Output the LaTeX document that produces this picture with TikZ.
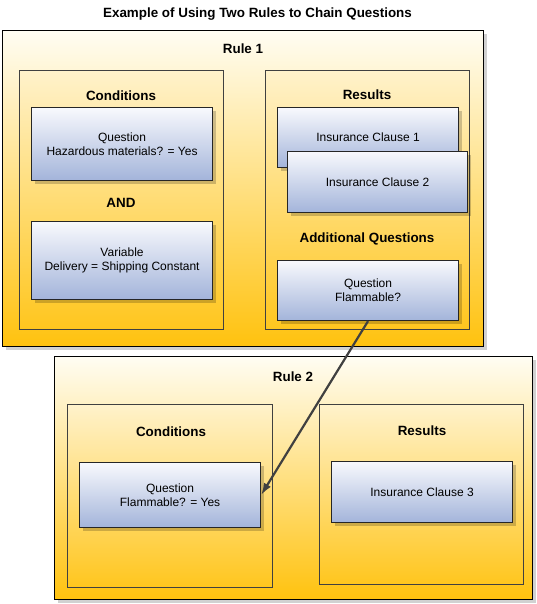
\documentclass[tikz,border=0pt]{standalone}
\usepackage{fontspec}
\setmainfont{Liberation Sans}
\usetikzlibrary{shapes,arrows.meta,calc,positioning,shadows}

\definecolor{ruletop}{HTML}{FFFDF3}
\definecolor{rulebot}{HTML}{FFC20E}
\definecolor{paneltop}{HTML}{FFF2CB}
\definecolor{panelbot}{HTML}{FFC61E}
\definecolor{itemtop}{HTML}{F8F9FD}
\definecolor{itembot}{HTML}{A3B4DA}
\definecolor{edge}{HTML}{404040}

\tikzset{
  rulebox/.style={draw=black, line width=1.3pt, top color=ruletop, bottom color=rulebot,
    anchor=north west, general shadow={shadow xshift=3pt, shadow yshift=-3pt, fill=black, opacity=0.18}},
  panel/.style={draw=edge, line width=0.9pt, top color=paneltop, bottom color=panelbot, anchor=north west},
  item/.style={draw=black!85, line width=1.1pt, top color=itemtop, bottom color=itembot,
    anchor=north west, align=center, font=\fontsize{12pt}{14pt}\selectfont,
    general shadow={shadow xshift=3pt, shadow yshift=-3pt, fill=black, opacity=0.2}},
  head/.style={font=\fontsize{13.4pt}{15pt}\selectfont\bfseries}
}

\begin{document}
\begin{tikzpicture}[x=1pt, y=-1pt]
  \useasboundingbox (0,0) rectangle (537,604);

  \node[head] (title) at (257.5,14) {Example of Using Two Rules to Chain Questions};

  % Rule 1
  \node[rulebox, minimum width=481pt, minimum height=316pt] (rule1) at (2,30) {};
  \node[head] (rule1head) at (243,49) {Rule 1};
  \node[panel, minimum width=204pt, minimum height=259pt] (cond1) at (19,70) {};
  \node[panel, minimum width=204pt, minimum height=259pt] (res1) at (265,70) {};
  \node[head] (cond1head) at (121,96) {Conditions};
  \node[head] (andhead) at (121,203) {AND};
  \node[head] (res1head) at (367,95) {Results};
  \node[head] (addhead) at (367,239) {Additional Questions};
  \node[item, minimum width=181pt, minimum height=73pt] (hazard) at (31,107) {Question\\Hazardous materials? = Yes};
  \node[item, minimum width=181pt, minimum height=78pt] (delivery) at (31,221) {Variable\\Delivery = Shipping Constant};
  \node[item, minimum width=181pt, minimum height=60pt] (clause1) at (277,107) {Insurance Clause 1};
  \node[item, minimum width=180pt, minimum height=61pt] (clause2) at (287,151) {Insurance Clause 2};
  \node[item, minimum width=181pt, minimum height=60pt] (flamq) at (277,260) {Question\\Flammable?};

  % Rule 2
  \node[rulebox, minimum width=478pt, minimum height=243pt] (rule2) at (54,356) {};
  \node[head] (rule2head) at (293,377) {Rule 2};
  \node[panel, minimum width=205pt, minimum height=183pt] (cond2) at (67,404) {};
  \node[panel, minimum width=204pt, minimum height=180pt] (res2) at (319,404) {};
  \node[head] (cond2head) at (171,432) {Conditions};
  \node[head] (res2head) at (422,431) {Results};
  \node[item, minimum width=181pt, minimum height=65pt] (flamyes) at (79,462) {Question\\Flammable? = Yes};
  \node[item, minimum width=181pt, minimum height=61pt] (clause3) at (331,461) {Insurance Clause 3};

  \draw[edge, line width=2.2pt, -{Latex[length=12pt, width=8pt]}] (flamq.south) -- (flamyes.east);
\end{tikzpicture}
\end{document}
